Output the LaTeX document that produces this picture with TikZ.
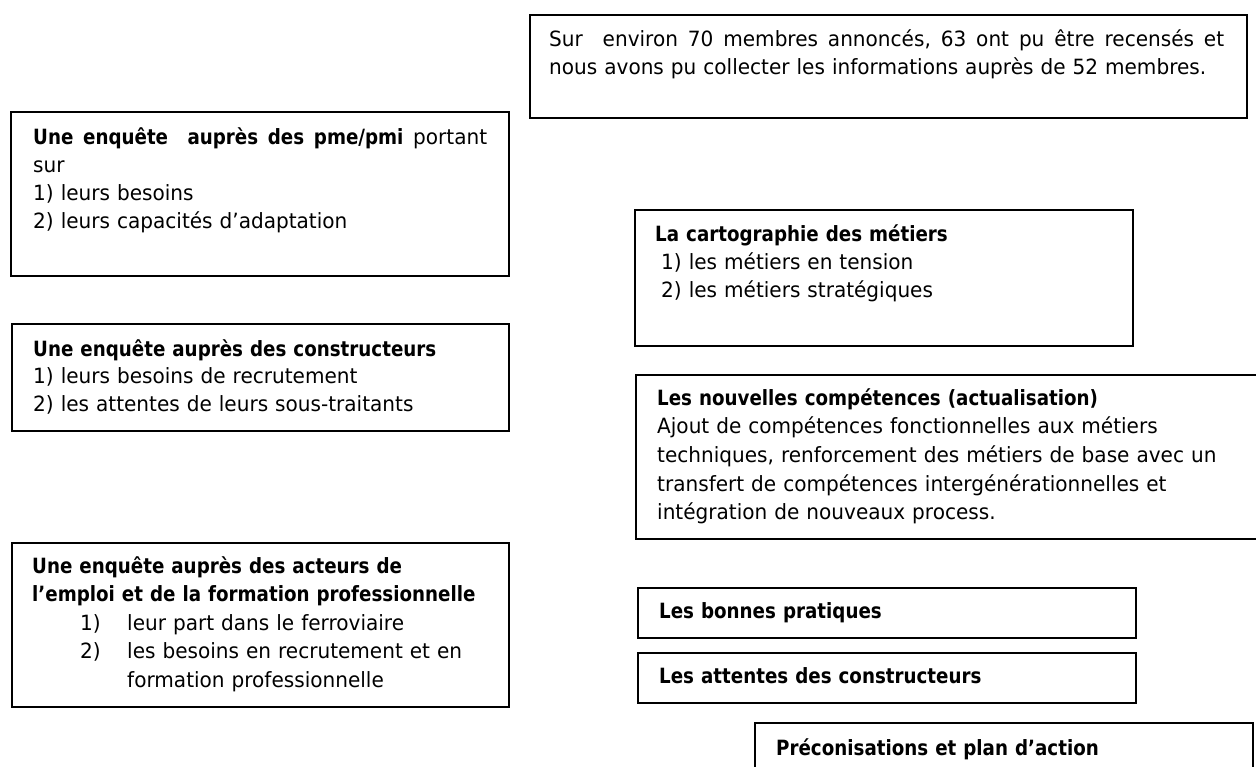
\documentclass[tikz,border=0pt]{standalone}
\usepackage{fontspec}
\setmainfont{DejaVu Sans}[UprightFeatures={FakeStretch=0.955},BoldFeatures={FakeStretch=0.87}]
\newcommand{\gp}{\hspace{0pt plus 1fil}}
\begin{document}
\begin{tikzpicture}[x=1pt,y=-1pt,
  box/.style={draw=black,line width=1.6pt,rectangle,inner sep=0pt,anchor=north west},
  txt/.style={anchor=base west,inner sep=0pt,align=left,text width=#1,
    font=\fontsize{21}{27.7}\selectfont},
  txt/.default=600pt]
\useasboundingbox (0,0) rectangle (1256,767);
% boxes
\node[box,minimum width=717pt,minimum height=103pt] (b1) at (529,14) {};
\node[box,minimum width=498pt,minimum height=164pt] (b2) at (10,111) {};
\node[box,minimum width=497pt,minimum height=107pt] (b3) at (11,323) {};
\node[box,minimum width=497pt,minimum height=164pt] (b4) at (11,542) {};
\node[box,minimum width=498pt,minimum height=136pt] (b5) at (634,209) {};
\node[box,minimum width=640pt,minimum height=164pt] (b6) at (635,374) {};
\node[box,minimum width=498pt,minimum height=50pt] (b7) at (637,587) {};
\node[box,minimum width=498pt,minimum height=50pt] (b8) at (637,652) {};
\node[box,minimum width=498pt,minimum height=80pt] (b9) at (754,722) {};
% texts
\node[txt=700pt] (t1) at (549,47) {\hbox to 675pt{Sur\gp\gp environ\gp 70\gp membres\gp annoncés,\gp 63\gp ont\gp pu\gp être\gp recensés\gp et}\\nous avons pu collecter les informations auprès de 52 membres.};
\node[txt=480pt] (t2) at (33,145) {\hbox to 454pt{\textbf{Une\gp enquête\gp\gp auprès\gp des\gp pme/pmi}\gp portant}\\sur\\1) leurs besoins\\2) leurs capacités d’adaptation};
\node[txt=480pt] (t3) at (33,356) {\textbf{Une enquête auprès des constructeurs}\\1) leurs besoins de recrutement\\2) les attentes de leurs sous-traitants};
\node[txt=480pt,font=\fontsize{21}{28.5}\selectfont] (t4) at (32,573) {\textbf{Une enquête auprès des acteurs de}\\\textbf{l’emploi et de la formation professionnelle}\\\hspace*{48pt}\makebox[47pt][l]{1)}leur part dans le ferroviaire\\\hspace*{48pt}\makebox[47pt][l]{2)}les besoins en recrutement et en\\\hspace*{95pt}formation professionnelle};
\node[txt=480pt] (t5) at (655,242) {\textbf{La cartographie des métiers}\\\hspace*{6pt}1) les métiers en tension\\\hspace*{6pt}2) les métiers stratégiques};
\node[txt=590pt,font=\fontsize{21}{28.7}\selectfont] (t6) at (657,405) {\textbf{Les nouvelles compétences (actualisation)}\\Ajout de compétences fonctionnelles aux métiers\\techniques, renforcement des métiers de base avec un\\transfert de compétences intergénérationnelles et\\intégration de nouveaux process.};
\node[txt=470pt] (t7) at (659,618) {\textbf{Les bonnes pratiques}};
\node[txt=470pt] (t8) at (659,683) {\textbf{Les attentes des constructeurs}};
\node[txt=470pt] (t9) at (776,755) {\textbf{Préconisations et plan d’action}};
\end{tikzpicture}
\end{document}
